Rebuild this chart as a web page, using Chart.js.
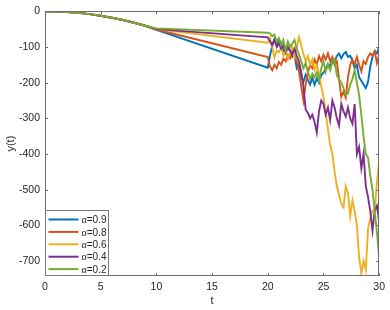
<!DOCTYPE html>
<html>
<head>
<meta charset="utf-8">
<script src="https://cdn.jsdelivr.net/npm/chart.js@4.4.1/dist/chart.umd.min.js"></script>
<style>
  html, body { margin: 0; padding: 0; background: #fff; }
  #wrap { width: 390px; height: 310px; }
</style>
</head>
<body>
<div id="wrap"><canvas id="chart"></canvas></div>
<script>
// ==========================================
// DATA
// ==========================================
const tValues = [0, 1, 2, 3, 4, 5, 6, 7, 8, 9, 10, 20,
  20.2, 20.4, 20.6, 20.8, 21, 21.2, 21.4, 21.6, 21.8, 22,
  22.2, 22.4, 22.6, 22.8, 23, 23.2, 23.4, 23.6, 23.8, 24,
  24.2, 24.4, 24.6, 24.8, 25, 25.2, 25.4, 25.6, 25.8, 26,
  26.2, 26.4, 26.6, 26.8, 27, 27.2, 27.4, 27.6, 27.8, 28,
  28.2, 28.4, 28.6, 28.8, 29, 29.2, 29.4, 29.6, 29.8, 30];

// shared part, t = 0..9
const yEarly = [0, -0.4, -1.8, -4.3, -7.8, -12.5, -18, -24.5, -32, -40.5];

// t = 10, 20, 20.2 ... 30
const y09 = [-52, -158,
  -125, -95, -78, -92, -80, -88, -110, -118, -100, -112,
  -128, -120, -160, -150, -182, -198, -178, -192, -205, -186,
  -206, -188, -200, -180, -172, -162, -148, -155, -135, -140,
  -125, -118, -132, -120, -114, -128, -125, -138, -160, -150,
  -185, -195, -205, -215, -198, -155, -128, -112, -118, -100];
const y08 = [-51, -128,
  -155, -165, -150, -160, -142, -150, -132, -140, -122, -132,
  -115, -125, -140, -168, -210, -250, -205, -172, -150, -160,
  -135, -150, -125, -140, -122, -135, -118, -140, -128, -150,
  -140, -190, -240, -225, -242, -185, -150, -135, -150, -128,
  -150, -168, -140, -148, -128, -118, -125, -112, -145, -122];
const y06 = [-50, -88,
  -75, -100, -130, -110, -115, -100, -125, -110, -135, -115,
  -100, -130, -100, -72, -95, -120, -140, -125, -150, -135,
  -165, -150, -175, -210, -240, -285, -330, -375, -400, -450,
  -490, -515, -540, -550, -490, -510, -575, -530, -560, -600,
  -690, -735, -700, -725, -610, -580, -560, -555, -480, -420];
const y04 = [-50, -73,
  -85, -95, -80, -100, -90, -105, -95, -115, -100, -110,
  -120, -105, -125, -140, -170, -210, -275, -285, -300, -290,
  -310, -340, -280, -250, -260, -290, -270, -305, -250, -270,
  -300, -320, -260, -280, -295, -270, -300, -315, -260, -400,
  -380, -440, -400, -490, -520, -560, -615, -560, -545, -590];
const y02 = [-48, -60,
  -62, -70, -65, -85, -75, -95, -80, -110, -85, -100,
  -90, -80, -105, -120, -140, -160, -145, -170, -190, -175,
  -185, -170, -195, -160, -140, -170, -150, -165, -140, -135,
  -180, -190, -200, -215, -235, -230, -205, -190, -165, -200,
  -235, -290, -350, -400, -410, -460, -500, -560, -620, -690];

const alphas = ['0.9', '0.8', '0.6', '0.4', '0.2'];
const seriesY = [y09, y08, y06, y04, y02];
const colores = ['#0072BD', '#D95319', '#EDB120', '#7E2F8E', '#77AC30'];

const xTicks = [0, 5, 10, 15, 20, 25, 30];
const yMin = -742;

// ==========================================
// MARCO, TICKS INTERIORES Y LEYENDA
// ==========================================
const marco = {
    id: 'marco',
    afterDatasetsDraw(chart) {
        const { ctx, chartArea: a, scales: { x, y } } = chart;
        ctx.save();
        ctx.strokeStyle = '#6e6e6e';
        ctx.lineWidth = 1;
        ctx.strokeRect(Math.round(a.left) + 0.5, Math.round(a.top) + 0.5,
            Math.round(a.right - a.left) - 1, Math.round(a.bottom - a.top) - 1);
        ctx.beginPath();
        x.ticks.forEach(t => {
            const px = Math.round(x.getPixelForValue(t.value)) + 0.5;
            ctx.moveTo(px, a.bottom); ctx.lineTo(px, a.bottom - 3);
            ctx.moveTo(px, a.top); ctx.lineTo(px, a.top + 3);
        });
        y.ticks.forEach(t => {
            const py = Math.round(y.getPixelForValue(t.value)) + 0.5;
            ctx.moveTo(a.left, py); ctx.lineTo(a.left + 3, py);
            ctx.moveTo(a.right, py); ctx.lineTo(a.right - 3, py);
        });
        ctx.stroke();

        // leyenda abajo a la izquierda
        const lx = Math.round(a.left) + 0.5, lw = 63, lh = 65;
        const ly = Math.round(a.bottom) - lh - 0.5;
        ctx.fillStyle = '#fff';
        ctx.fillRect(lx, ly, lw, lh);
        ctx.strokeStyle = '#7a7a7a';
        ctx.strokeRect(lx, ly, lw, lh);
        alphas.forEach((al, i) => {
            const ry = ly + 9 + i * 12.4;
            ctx.strokeStyle = colores[i];
            ctx.lineWidth = 2;
            ctx.beginPath();
            ctx.moveTo(lx + 3, ry); ctx.lineTo(lx + 33, ry);
            ctx.stroke();
            ctx.fillStyle = '#262626';
            ctx.textBaseline = 'middle';
            ctx.font = "10px 'Liberation Serif', serif";
            ctx.fillText('α', lx + 36, ry + 1);
            const w = ctx.measureText('α').width;
            ctx.font = "10px 'Liberation Sans', Arial, sans-serif";
            ctx.fillText('=' + al, lx + 36 + w, ry + 1);
        });
        ctx.restore();
    }
};

// ==========================================
// GRÁFICA
// ==========================================
Chart.defaults.font.family = "'Liberation Sans', Arial, sans-serif";
Chart.defaults.color = '#262626';

const datasets = seriesY.map((ys, i) => ({
    label: 'α=' + alphas[i],
    data: tValues.map((t, k) => ({ x: t, y: k < yEarly.length ? yEarly[k] : ys[k - yEarly.length] })),
    borderColor: colores[i],
    borderWidth: 1.9,
    pointRadius: 0,
    tension: 0,
    fill: false,
    order: seriesY.length - i
}));

new Chart(document.getElementById('chart'), {
    type: 'line',
    data: { datasets },
    options: {
        responsive: true,
        maintainAspectRatio: false,
        animation: false,
        layout: { padding: { top: 9, right: 9, left: 0, bottom: 0 } },
        plugins: { legend: { display: false }, tooltip: { enabled: false } },
        scales: {
            x: {
                type: 'linear',
                min: 0, max: 30,
                afterBuildTicks: s => { s.ticks = xTicks.map(v => ({ value: v })); },
                afterFit: s => { s.height = 34; },
                grid: { display: false, drawTicks: false },
                border: { display: false },
                ticks: { font: { size: 10.5 }, padding: 5, maxRotation: 0 },
                title: { display: true, text: 't', font: { size: 11 }, padding: { top: 0, bottom: 2 } }
            },
            y: {
                min: yMin, max: 0,
                afterFit: s => { s.width = 45; },
                grid: { display: false, drawTicks: false },
                border: { display: false },
                ticks: { stepSize: 100, includeBounds: false, font: { size: 10.5 }, padding: 5 },
                title: { display: true, text: 'y(t)', font: { size: 11 }, padding: { top: 4, bottom: 0 } }
            }
        }
    },
    plugins: [marco]
});
</script>
</body>
</html>
